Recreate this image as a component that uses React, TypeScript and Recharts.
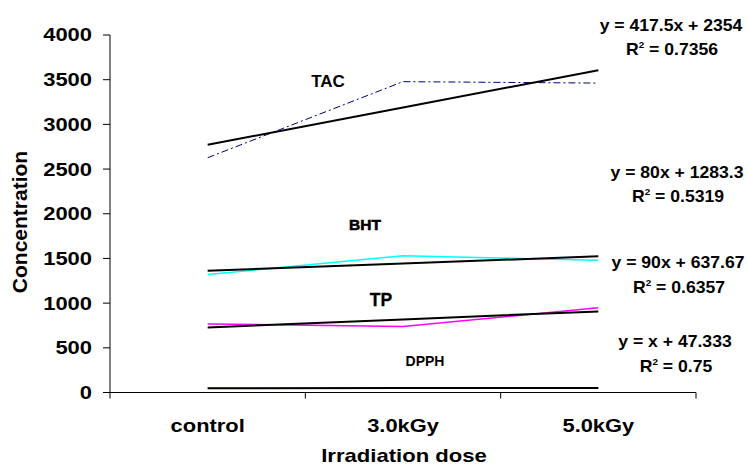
import React from 'react';
import { LineChart, Line, XAxis, YAxis } from 'recharts';

// doses on the x axis
const categories = ['control', '3.0kGy', '5.0kGy'];
const doseIndex = [1, 2, 3];
const xBoundaries = [0.5, 1.5, 2.5, 3.5];

// measured values
const tac = [2627, 3478, 3462];
const bht = [1320, 1530, 1480];
const tp = [767, 739, 947];
const dpph = [48, 50, 50];

// linear trend lines (Excel trendline values)
const tacTrend = [2771.5, 3189, 3606.5];
const bhtTrend = [1363.3, 1443.3, 1523.3];
const tpTrend = [727.67, 817.67, 907.67];
const dpphTrend = [48.333, 49.333, 50.333];

const yTicks = [0, 500, 1000, 1500, 2000, 2500, 3000, 3500, 4000];

const seriesNames = ['TAC', 'BHT', 'TP', 'DPPH'];
const trendEquations = ['y = 417.5x + 2354', 'y = 80x + 1283.3', 'y = 90x + 637.67', 'y = x + 47.333'];
const rSquared = ['0.7356', '0.5319', '0.6357', '0.75'];

const data = doseIndex.map((x, i) => ({
    x,
    dose: categories[i],
    tac: tac[i],
    bht: bht[i],
    tp: tp[i],
    dpph: dpph[i],
    tacTrend: tacTrend[i],
    bhtTrend: bhtTrend[i],
    tpTrend: tpTrend[i],
    dpphTrend: dpphTrend[i],
}));

const FONT = '"Liberation Sans", Arial, sans-serif';
const HALF_BAND = 97.67;

const YTick = (props: any) => {
    const { x, y, payload } = props;
    return (
        <g transform={`translate(${x - 9},${y})`}>
            <text x={0} y={0} dy="0.36em" textAnchor="end" transform="scale(1.22,1)"
                fontFamily={FONT} fontWeight="bold" fontSize={18} fill="#000">
                {payload.value}
            </text>
        </g>
    );
};

const XTick = (props: any) => {
    const { x, y, index } = props;
    const label = categories[index];
    if (!label) return null;
    return (
        <g transform={`translate(${x + HALF_BAND},${y + 31})`}>
            <text x={0} y={0} textAnchor="middle" transform="scale(1.25,1)"
                fontFamily={FONT} fontWeight="bold" fontSize={17.5} fill="#000">
                {label}
            </text>
        </g>
    );
};

const eqPos = [
    { x: 671, y: 31, ry: 55 },
    { x: 677, y: 178, ry: 202 },
    { x: 678, y: 268, ry: 293 },
    { x: 675, y: 347, ry: 372 },
];

const namePos = [
    { x: 328, y: 87, size: 17, stroke: 0 },
    { x: 365, y: 230, size: 15.5, stroke: 0.6 },
    { x: 381, y: 306, size: 17.5, stroke: 0.3 },
    { x: 425, y: 366, size: 14, stroke: 0 },
];

export default function App() {
    return (
        <div style={{ position: 'absolute', left: 0, top: 0, width: 747, height: 467, background: '#fff' }}>
            <LineChart width={747} height={467} data={data} margin={{ top: 35, right: 51, left: 0, bottom: 0 }}>
                <XAxis
                    dataKey="x"
                    type="number"
                    domain={[0.5, 3.5]}
                    ticks={xBoundaries}
                    height={74.5}
                    tickSize={6}
                    tick={<XTick />}
                    axisLine={{ stroke: '#000', strokeWidth: 1 }}
                    tickLine={{ stroke: '#000', strokeWidth: 1 }}
                    interval={0}
                />
                <YAxis
                    domain={[0, 4000]}
                    ticks={yTicks}
                    width={110}
                    tickSize={7}
                    tick={<YTick />}
                    axisLine={{ stroke: '#000', strokeWidth: 1 }}
                    tickLine={{ stroke: '#000', strokeWidth: 1 }}
                    interval={0}
                />
                <Line dataKey="tac" stroke="#000080" strokeWidth={1} strokeDasharray="7 3 2 3" dot={false} isAnimationActive={false} />
                <Line dataKey="bht" stroke="#00FFFF" strokeWidth={1.5} dot={false} isAnimationActive={false} />
                <Line dataKey="tp" stroke="#FF00FF" strokeWidth={1.5} dot={false} isAnimationActive={false} />
                <Line dataKey="dpph" stroke="#808000" strokeWidth={1} dot={false} isAnimationActive={false} />
                <Line dataKey="tacTrend" stroke="#000" strokeWidth={2} dot={false} isAnimationActive={false} />
                <Line dataKey="bhtTrend" stroke="#000" strokeWidth={2} dot={false} isAnimationActive={false} />
                <Line dataKey="tpTrend" stroke="#000" strokeWidth={2} dot={false} isAnimationActive={false} />
                <Line dataKey="dpphTrend" stroke="#000" strokeWidth={2} dot={false} isAnimationActive={false} />
            </LineChart>
            <svg width={747} height={467} style={{ position: 'absolute', left: 0, top: 0, pointerEvents: 'none' }}
                fontFamily={FONT} fontWeight="bold" fill="#000">
                <text transform="translate(27,222) rotate(-90) scale(1.05,1)" textAnchor="middle" fontSize={20}>
                    Concentration
                </text>
                <g transform="translate(404,462) scale(1.2,1)">
                    <text x={0} y={0} textAnchor="middle" fontSize={18.4}>Irradiation dose</text>
                </g>
                {seriesNames.map((n, i) => (
                    <text key={n} x={namePos[i].x} y={namePos[i].y} textAnchor="middle"
                        fontSize={namePos[i].size} stroke="#000" strokeWidth={namePos[i].stroke}>
                        {n}
                    </text>
                ))}
                {trendEquations.map((eq, i) => (
                    <g key={eq}>
                        <g transform={`translate(${eqPos[i].x},${eqPos[i].y}) scale(1.1,1)`}>
                            <text x={0} y={0} textAnchor="middle" fontSize={16}>{eq}</text>
                        </g>
                        <g transform={`translate(${eqPos[i].x + 1},${eqPos[i].ry}) scale(1.1,1)`}>
                            <text x={0} y={0} textAnchor="middle" fontSize={16}>
                                R<tspan fontSize={9} dy={-7}>2</tspan><tspan dy={7}> = {rSquared[i]}</tspan>
                            </text>
                        </g>
                    </g>
                ))}
            </svg>
        </div>
    );
}
